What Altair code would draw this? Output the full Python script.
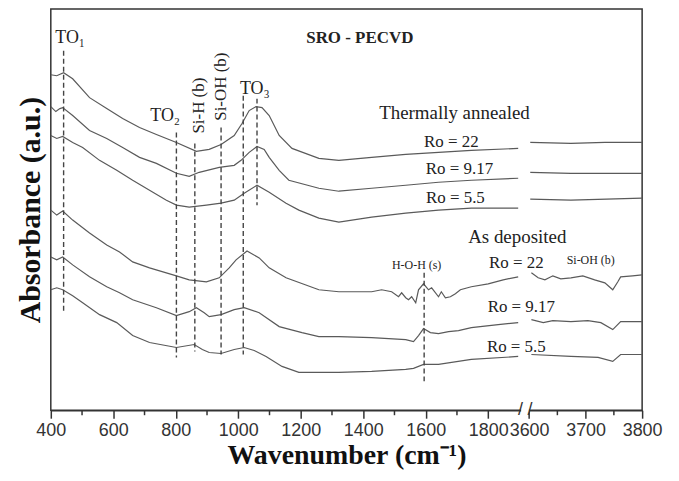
import altair as alt
import pandas as pd

# ---- spectra: wavenumber (cm-1) and offset absorbance (a.u.) ----
ta22_w = [400, 419, 441, 470, 524, 579, 630, 684, 738, 802, 866, 907, 945, 987, 1012, 1035, 1057, 1076, 1099, 1131, 1172, 1258, 1322, 1427, 1536, 1641, 1746, 1896,
          3602, 3674, 3734, 3800]
ta22_a = [337, 336, 339, 333, 314, 303, 293, 284, 277, 269, 260, 262, 267, 276, 288, 301, 305, 304, 296, 276, 263, 253, 251, 254, 257, 259, 261, 263,
          269, 268, 269, 269]

ta917_w = [400, 416, 429, 438, 470, 524, 579, 630, 684, 738, 802, 843, 875, 939, 987, 1009, 1035, 1060, 1083, 1099, 1131, 1162, 1258, 1322, 1427, 1536, 1641, 1746, 1896,
           3602, 3674, 3800]
ta917_a = [305, 300, 303, 304, 296, 281, 273, 264, 254, 248, 238, 235, 239, 244, 246, 251, 259, 265, 262, 254, 241, 231, 223, 220, 223, 226, 229, 231, 233,
           239, 238, 238]

ta55_w = [400, 419, 438, 470, 502, 556, 611, 662, 716, 770, 802, 843, 898, 945, 987, 1019, 1060, 1099, 1153, 1194, 1258, 1322, 1427, 1536, 1641, 1746, 1896,
          3602, 3674, 3800]
ta55_a = [276, 273, 275, 269, 264, 251, 241, 231, 221, 211, 206, 204, 206, 208, 211, 218, 226, 219, 208, 201, 193, 189, 194, 198, 201, 203, 203,
          212, 211, 213]

ad22_w = [400, 419, 438, 470, 524, 579, 620, 662, 716, 802, 843, 898, 939, 971, 993, 1028, 1067, 1099, 1153, 1258, 1322, 1427, 1459, 1491, 1513, 1523, 1536, 1545,
          1555, 1568, 1577, 1593, 1609, 1619, 1641, 1650, 1663, 1679, 1695, 1711, 1746, 1800, 1848, 1896,
          3604, 3616, 3628, 3642, 3656, 3674, 3695, 3716, 3734, 3748, 3757, 3762, 3783, 3800]
ad22_a = [201, 196, 200, 191, 178, 166, 159, 149, 143, 135, 131, 129, 133, 143, 151, 160, 153, 143, 133, 121, 119, 119, 121, 119, 114, 118, 113, 111,
          114, 108, 121, 127, 121, 123, 114, 119, 113, 114, 117, 121, 124, 127, 131, 134,
          138, 133, 131, 135, 132, 133, 135, 131, 128, 121, 129, 134, 135, 136]

ad917_w = [400, 419, 438, 470, 524, 579, 620, 662, 738, 802, 843, 866, 891, 907, 945, 987, 1019, 1067, 1131, 1204, 1258, 1322, 1427, 1536, 1561, 1577, 1593,
           1615, 1641, 1673, 1705, 1746, 1832, 1896,
           3604, 3625, 3642, 3674, 3704, 3727, 3748, 3762, 3800]
ad917_a = [154, 151, 154, 146, 134, 124, 118, 111, 103, 95, 99, 103, 98, 94, 96, 101, 103, 98, 84, 78, 74, 74, 73, 71, 69, 75, 82,
           78, 77, 79, 80, 83, 86, 88,
           91, 88, 90, 89, 90, 88, 81, 89, 89]

ad55_w = [400, 419, 438, 470, 502, 556, 611, 662, 716, 802, 859, 885, 907, 945, 987, 1019, 1051, 1089, 1140, 1194, 1322, 1427, 1536, 1561, 1593, 1641, 1746, 1896,
          3604, 3674, 3722, 3748, 3762, 3800]
ad55_a = [121, 123, 121, 115, 108, 96, 88, 75, 68, 63, 66, 61, 58, 57, 61, 63, 60, 54, 44, 38, 38, 39, 41, 42, 46, 46, 51, 54,
          56, 54, 53, 49, 56, 56]

# ---- band marker lines ----
band_w = [441, 802, 861, 945, 1016, 1060, 1595]
band_top = [361, 279, 268, 284, 316, 313, 138]
band_bottom = [98, 53, 59, 56, 56, 206, 29]

# ---- annotations ----
peak_text = ["TO\u2081", "TO\u2082", "TO\u2083"]
peak_w = [462, 766, 1053]
peak_a = [374, 296, 323]

bond_text = ["Si-H (b)", "Si-OH (b)"]
bond_w = [876, 946]
bond_a = [306, 325]

head_text = ["Thermally annealed", "As deposited"]
head_w = [1692, 1893]
head_a = [299, 174]

ro_text = ["Ro = 22", "Ro = 9.17", "Ro = 5.5", "Ro = 22", "Ro = 9.17", "Ro = 5.5"]
ro_w = [1682, 1708, 1695, 1890, 1906, 1890]
ro_a = [269, 242, 213, 148, 104, 63]

small_text = ["H-O-H (s)", "Si-OH (b)"]
small_w = [1571, 3709]
small_a = [146, 151]

title_text = ["SRO - PECVD"]
title_w = [1389]
title_a = [374]

# axis ticks (positions on the broken axis) and break marks
major_ticks = [400, 600, 800, 1000, 1200, 1400, 1600, 1800, 1931, 2111.86, 2292.72]
minor_ticks = [500, 700, 900, 1100, 1300, 1500, 1700, 2021.43, 2202.29]
break_pos = [1903, 1934]

curves = [
    ("Annealed Ro=22", ta22_w, ta22_a),
    ("Annealed Ro=9.17", ta917_w, ta917_a),
    ("Annealed Ro=5.5", ta55_w, ta55_a),
    ("Deposited Ro=22", ad22_w, ad22_a),
    ("Deposited Ro=9.17", ad917_w, ad917_a),
    ("Deposited Ro=5.5", ad55_w, ad55_a),
]
rows = []
for name, ws, vals in curves:
    for w, a in zip(ws, vals):
        rows.append({"curve": name, "w": w, "a": a, "seg": "low" if w < 3000 else "high"})
df = pd.DataFrame(rows)

XPOS = "datum.w < 3000 ? datum.w : 1931 + (datum.w - 3600) * 1.8086"
xscale = alt.Scale(domain=[400, 2292.72], nice=False, zero=False)
yscale = alt.Scale(domain=[0, 403], nice=False, zero=False)
SERIF = "Liberation Serif"
INK = "#222"

label_expr = ("datum.value > 1900 ? format(3600 + (datum.value - 1931) / 1.8086, '.0f') "
              ": format(datum.value, '.0f')")

AX_X = alt.Axis(
    values=major_ticks, labelExpr=label_expr, labelOverlap=False, labelFlush=False,
    tickSize=8, tickWidth=1.5,
    tickColor="#333", domainColor="#333", domainWidth=1.5, grid=False,
    labelFont="Liberation Sans", labelFontSize=18, labelColor="#333", labelPadding=3,
    title="Wavenumber (cm\u207b\u00b9)", titleFont=SERIF, titleFontSize=28, titleFontWeight="bold",
    titleColor="#111", titlePadding=3)

AX_Y = alt.Axis(
    labels=False, ticks=False, domain=False, grid=False,
    title="Absorbance (a.u.)", titleFont=SERIF, titleFontSize=30, titleFontWeight="bold",
    titleColor="#111", titlePadding=5)

X_ENC = alt.X("xpos:Q", scale=xscale, axis=AX_X)


def y_enc(field):
    return alt.Y(field, scale=yscale, axis=AX_Y)


lines = alt.Chart(df).transform_calculate(xpos=XPOS).mark_line(
    color="#5a5a5a", strokeWidth=1.2).encode(
    x=X_ENC, y=y_enc("a:Q"), detail=["curve:N", "seg:N"])

rules_df = pd.DataFrame({"w": band_w, "top": band_top, "bottom": band_bottom})
rules = alt.Chart(rules_df).transform_calculate(xpos=XPOS).mark_rule(
    color="#444", strokeWidth=1.4, strokeDash=[5, 3]).encode(
    x=X_ENC, y=y_enc("top:Q"), y2="bottom:Q")

minor_df = pd.DataFrame({"xpos": minor_ticks})
minor = alt.Chart(minor_df).mark_rule(color="#333", strokeWidth=1.5).encode(
    x=X_ENC, y=alt.datum(0, scale=yscale, axis=AX_Y), y2=alt.datum(-5))


def text_layer(text, ws, vals, **kw):
    d = pd.DataFrame({"t": text, "w": ws, "a": vals})
    return alt.Chart(d).transform_calculate(xpos=XPOS).mark_text(
        font=SERIF, color=INK, baseline="middle", align="center", **kw).encode(
        x=X_ENC, y=y_enc("a:Q"), text="t:N")


t_title = text_layer(title_text, title_w, title_a, fontSize=17, fontWeight="bold")
t_peak = text_layer(peak_text, peak_w, peak_a, fontSize=18)
t_bond = text_layer(bond_text, bond_w, bond_a, fontSize=17, angle=270)
t_head = text_layer(head_text, head_w, head_a, fontSize=19)
t_ro = text_layer(ro_text, ro_w, ro_a, fontSize=17)
t_small = text_layer(small_text, small_w, small_a, fontSize=12)

brk_df = pd.DataFrame({"xpos": break_pos})
gap = alt.Chart(brk_df).mark_rect(color="white").encode(
    x=alt.datum(1906, scale=xscale, axis=AX_X), x2=alt.datum(1930),
    y=alt.datum(-3, scale=yscale, axis=AX_Y), y2=alt.datum(3))
slashes = alt.Chart(brk_df).mark_text(
    text="/", font="Liberation Sans", fontSize=18, color="#333", baseline="middle").encode(
    x=X_ENC, y=alt.datum(0, scale=yscale, axis=AX_Y))

chart = alt.layer(
    lines, rules, minor, gap, slashes, t_title, t_peak, t_bond, t_head, t_ro, t_small
).properties(
    width=594, height=403, padding={"left": 8, "top": 0, "right": 8, "bottom": 0}
).configure_view(stroke="#333", strokeWidth=1.5)

chart.save("out.html", embed_options={"renderer": "svg", "actions": False})
